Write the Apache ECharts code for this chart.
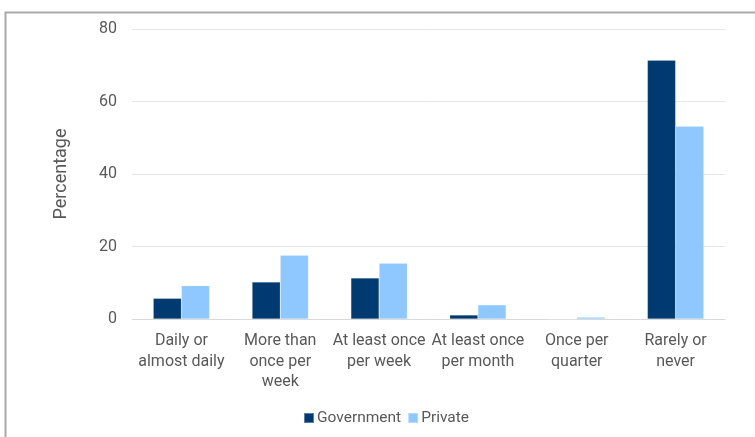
<!DOCTYPE html>
<html>
<head>
<meta charset="utf-8">
<style>
  html, body { margin: 0; padding: 0; background: #fff; }
  #chart { width: 755px; height: 437px; }
</style>
<script src="https://cdn.jsdelivr.net/npm/echarts@6/dist/echarts.min.js"></script>
</head>
<body>
<div id="chart"></div>
<script>
// Frequency categories along the x axis
const categories = [
  'Daily or\nalmost daily',
  'More than\nonce per\nweek',
  'At least once\nper week',
  'At least once\nper month',
  'Once per\nquarter',
  'Rarely or\nnever'
];

// Share of respondents (%) per sector
const governmentValues = [5.7, 10.2, 11.3, 1.1, 0, 71.4];
const privateValues = [9.2, 17.6, 15.4, 3.9, 0.5, 53.2];

// Y axis ticks
const yTicks = [0, 20, 40, 60, 80];

const textColor = '#595959';
const fontFamily = 'Roboto, "Noto Sans", sans-serif';

const chart = echarts.init(document.getElementById('chart'));
chart.setOption({
  animation: false,
  backgroundColor: '#ffffff',
  textStyle: { fontFamily: fontFamily },
  graphic: [
    {
      type: 'polyline',
      shape: { points: [[5.5, 437], [5.5, 12.5], [755, 12.5]] },
      style: { stroke: '#a9a9a9', lineWidth: 2, fill: null },
      silent: true
    }
  ],
  grid: { left: 132, right: 30, top: 29, bottom: 118 },
  legend: {
    top: 405,
    left: 298,
    itemWidth: 10,
    itemHeight: 10,
    itemGap: 6,
    icon: 'rect',
    textStyle: { color: textColor, fontSize: 15.5, fontFamily: fontFamily, padding: [0, 0, 0, -2] },
    data: ['Government', 'Private']
  },
  xAxis: {
    type: 'category',
    data: categories,
    axisLine: { show: true, lineStyle: { color: '#d9d9d9', width: 1 } },
    axisTick: { show: false },
    axisLabel: {
      color: textColor,
      fontSize: 16,
      lineHeight: 20.5,
      margin: 12,
      interval: 0,
      fontFamily: fontFamily
    }
  },
  yAxis: {
    type: 'value',
    min: yTicks[0],
    max: yTicks[yTicks.length - 1],
    interval: 20,
    name: 'Percentage',
    nameLocation: 'middle',
    nameGap: 62,
    nameRotate: 90,
    nameTextStyle: { color: textColor, fontSize: 18, fontFamily: fontFamily },
    axisLine: { show: false },
    axisTick: { show: false },
    axisLabel: { color: textColor, fontSize: 16, margin: 15, fontFamily: fontFamily },
    splitLine: { lineStyle: { color: '#e6e6e6', width: 1 } }
  },
  series: [
    {
      name: 'Government',
      type: 'bar',
      data: governmentValues,
      barGap: '0%',
      barCategoryGap: '43%',
      itemStyle: { color: '#003a70', borderColor: 'rgba(255,255,255,0.35)', borderWidth: 0.5 }
    },
    {
      name: 'Private',
      type: 'bar',
      data: privateValues,
      itemStyle: { color: '#8ec8ff', borderColor: 'rgba(255,255,255,0.35)', borderWidth: 0.5 }
    }
  ]
});
</script>
</body>
</html>
